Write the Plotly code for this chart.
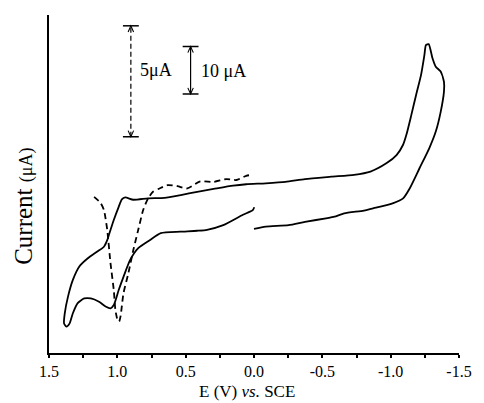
import plotly.graph_objects as go

# Solid CV (potential in V vs SCE, current in plot units ~ uA, 10 uA scale bar)
solid_E = [0.0, -0.086, -0.253, -0.373, -0.538, -0.589, -0.660, -0.804, -0.876, -1.019,
           -1.091, -1.139, -1.211, -1.283, -1.330, -1.366, -1.390, -1.390, -1.366, -1.330,
           -1.306, -1.278, -1.258, -1.247, -1.222, -1.186, -1.151, -1.115, -1.091, -1.043,
           -0.971, -0.852, -0.732, -0.565, -0.373, -0.230, -0.086, 0.057, 0.153, 0.296,
           0.416, 0.536, 0.655, 0.775, 0.883, 0.942, 0.967, 0.990, 1.026, 1.062,
           1.074, 1.098, 1.146, 1.218, 1.278, 1.326, 1.361, 1.385, 1.390, 1.373,
           1.349, 1.326, 1.290, 1.242, 1.194, 1.134, 1.086, 1.050, 1.026, 0.990,
           0.955, 0.906, 0.847, 0.763, 0.682, 0.538, 0.416, 0.344, 0.225, 0.081,
           0.009, -0.002]
solid_I = [26.4, 26.9, 27.2, 27.9, 28.7, 29.0, 29.7, 30.3, 30.8, 31.9,
           32.9, 35.0, 39.3, 43.6, 47.1, 51.3, 55.6, 57.7, 59.9, 60.9,
           62.7, 65.7, 65.5, 63.4, 59.1, 54.9, 50.6, 46.4, 44.3, 42.1,
           40.4, 38.6, 37.9, 37.5, 37.0, 36.4, 36.1, 35.9, 35.6, 34.9,
           34.3, 33.6, 33.0, 32.9, 32.6, 33.1, 32.7, 31.1, 28.3, 25.1,
           24.0, 22.6, 21.6, 20.1, 18.4, 15.5, 12.0, 8.4, 6.3, 5.6,
           6.3, 8.4, 10.6, 11.6, 11.6, 10.9, 9.9, 9.5, 10.2, 13.4,
           16.2, 19.8, 22.3, 24.0, 25.5, 25.8, 26.0, 26.2, 27.2, 29.4,
           30.4, 31.0]

# Dashed CV (5 uA scale bar)
dash_E = [1.170, 1.122, 1.098, 1.074, 1.050, 1.026, 1.014, 0.998, 0.987, 0.976,
          0.955, 0.919, 0.883, 0.847, 0.811, 0.775, 0.739, 0.691, 0.632, 0.560,
          0.488, 0.393, 0.296, 0.201, 0.129, 0.057, 0.014]
dash_I = [33.2, 31.9, 30.4, 26.2, 19.1, 13.4, 9.1, 7.0, 6.7, 7.9,
          12.7, 17.0, 21.9, 26.2, 30.4, 32.9, 34.3, 35.0, 35.7, 35.5,
          35.0, 36.5, 36.4, 37.0, 36.8, 37.7, 37.9]

x_ticks = [1.5, 1.0, 0.5, 0.0, -0.5, -1.0, -1.5]
x_ticklabels = ["1.5", "1.0", "0.5", "0.0", "-0.5", "-1.0", "-1.5"]

# Scale bars: (E position, bottom, top, label, dashed)
bars = [
    dict(x=0.901, y0=46.0, y1=69.6, label="5\u03bcA", dash="5px,3px", lx=0.847, ly=60.1),
    dict(x=0.464, y0=55.1, y1=65.2, label="10 \u03bcA", dash="solid", lx=0.402, ly=60.0),
]

FONT = "Liberation Serif, Times New Roman, serif"

fig = go.Figure()
fig.add_trace(go.Scatter(x=solid_E, y=solid_I, mode="lines",
                         line=dict(color="black", width=1.8, shape="spline", smoothing=0.6),
                         showlegend=False, hoverinfo="skip"))
fig.add_trace(go.Scatter(x=dash_E, y=dash_I, mode="lines",
                         line=dict(color="black", width=1.8, dash="6px,4px", shape="spline", smoothing=0.6),
                         showlegend=False, hoverinfo="skip"))

capw = 0.058   # half width of caps in V
ahx = 0.02     # arrowhead half width in V
ahy = 1.3      # arrowhead length in plot units
for b in bars:
    fig.add_shape(type="line", x0=b["x"], x1=b["x"], y0=b["y0"], y1=b["y1"],
                  line=dict(color="black", width=1.2, dash=b["dash"]))
    for yy in (b["y0"], b["y1"]):
        fig.add_shape(type="line", x0=b["x"] + capw, x1=b["x"] - capw, y0=yy, y1=yy,
                      line=dict(color="black", width=1.5))
    # open arrowheads
    fig.add_shape(type="path",
                  path=f"M {b['x']+ahx} {b['y1']-ahy} L {b['x']} {b['y1']} L {b['x']-ahx} {b['y1']-ahy}",
                  line=dict(color="black", width=1.1))
    fig.add_shape(type="path",
                  path=f"M {b['x']+ahx} {b['y0']+ahy} L {b['x']} {b['y0']} L {b['x']-ahx} {b['y0']+ahy}",
                  line=dict(color="black", width=1.1))
    fig.add_annotation(x=b["lx"], y=b["ly"], text=b["label"], showarrow=False,
                       xanchor="left", yanchor="middle",
                       font=dict(family=FONT, size=18, color="black"))

# axis titles
fig.add_annotation(x=0.05, y=0, xref="x", yref="y", yanchor="top", yshift=-28,
                   text="E (V) <i>vs.</i> SCE", showarrow=False, borderpad=0,
                   font=dict(family=FONT, size=17, color="black"))
fig.add_annotation(x=0, xref="paper", xshift=-25, y=31.1, yref="y",
                   text="Current <span style='font-size:18px'>(\u03bcA)</span>",
                   textangle=-90, showarrow=False, xanchor="center", yanchor="middle",
                   font=dict(family=FONT, size=25, color="black"))

fig.update_layout(
    width=484, height=403,
    margin=dict(l=49, r=17, t=15, b=50),
    paper_bgcolor="white", plot_bgcolor="white",
    xaxis=dict(range=[1.5, -1.5], tickmode="array", tickvals=x_ticks, ticktext=x_ticklabels,
               showgrid=False, zeroline=False, showline=True, linecolor="black", linewidth=2,
               ticks="outside", ticklen=3, tickwidth=1.5, tickcolor="black",
               minor=dict(dtick=0.25, tick0=0, ticks="outside", ticklen=3, tickwidth=1.5,
                          tickcolor="black", showgrid=False),
               ticklabelstandoff=0,
               tickfont=dict(family=FONT, size=16, color="black")),
    yaxis=dict(range=[0, 71.9], showgrid=False, zeroline=False, showline=True,
               linecolor="black", linewidth=2, showticklabels=False, ticks=""),
)

fig.write_html("out.html")
